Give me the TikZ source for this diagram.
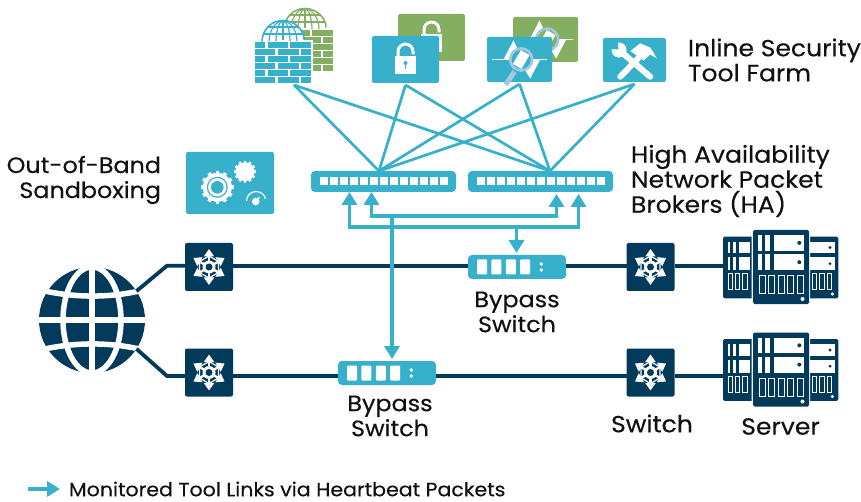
\documentclass[tikz,border=0pt]{standalone}
\usepackage{fontspec}
\setmainfont{Poppins}[FakeStretch=1.07,FakeBold=0.35]
\usepackage{xcolor}
\usetikzlibrary{arrows.meta, positioning}
\definecolor{boxteal}{HTML}{36B0CB}
\definecolor{boxgreen}{HTML}{84AE60}
\definecolor{boxdark}{HTML}{023A5C}
\definecolor{lenslight}{HTML}{A5C8E1}
\definecolor{labelink}{HTML}{111111}

\tikzset{
  netarrows/.pic={
    \foreach \a in {30,90,...,330}
      \draw[white,line width=2.4pt,-{Triangle[width=10pt,length=7.5pt]}] (0,0) -- (\a:20);
    \draw[white,line width=1.2pt] (30:11) -- (90:11) -- (150:11) -- (210:11) -- (270:11) -- (330:11) -- cycle;
    \fill[white] (0,0) circle (6.5);
    \fill[boxdark] (0,0) circle (3.5);
  },
  brokerports/.pic={
    \foreach \i in {0,...,12}
      \fill[white] (-64+10*\i,-4) rectangle ++(8,8);
  },
  bypassports/.pic={
    \foreach \i in {0,...,3}
      \fill[white,rounded corners=1pt] (-40+14.4*\i,-7.5) rectangle ++(10,15);
    \fill[white] (24.3,-3) circle (1.9);
    \fill[white] (24.3,3) circle (1.9);
  },
  padlock/.pic={
    \draw[white,line width=3pt] (-7.5,-3) -- (-7.5,-8) arc (180:360:7.5) -- (7.5,-3);
    \fill[white] (-10.5,-3.5) rectangle (10.5,15);
    \fill[#1] (0,3.5) circle (2);
    \fill[#1] (-0.9,3.5) rectangle (0.9,9.5);
  },
  wavelens/.pic={
    \draw[white,line width=1.5pt] (-27.5,0) -- (29,0);
    \fill[white] (-16,0) -- (-6,-19) -- (3,0) -- cycle;
    \fill[white] (-1,0) -- (10.7,19) -- (20.7,0) -- cycle;
    \draw[lenslight,line width=5pt] (-5,12) -- (-15,27);
    \fill[#1] (1.7,0) circle (11);
    \fill[white,rotate around={-30:(1.7,0)}] (-3.3,-8) rectangle (6.7,8);
    \draw[lenslight,line width=2.7pt] (1.7,0) circle (11);
  },
  brickwall/.pic={
    \fill[white] (-1.5,-1.5) rectangle (57.5,43.5);
    \fill[white] (7,0) arc (180:360:21) -- cycle;
    \begin{scope}
      \clip (7,-0.5) arc (180:360:21) -- cycle;
      \draw[#1,line width=1.2pt] (28,-21) -- (28,0);
      \draw[#1,line width=1.2pt] (28,0) ellipse (7 and 21);
      \draw[#1,line width=1.2pt] (28,0) ellipse (14 and 21);
      \draw[#1,line width=1.2pt] (5,-8) -- (51,-8);
      \draw[#1,line width=1.2pt] (5,-15) -- (51,-15);
    \end{scope}
    \draw[#1,line width=1.6pt] (7,-0.5) arc (180:360:21);
    \foreach \y in {0,14,28} {
      \fill[#1] (0,\y) rectangle ++(10,5.8);
      \fill[#1] (12.5,\y) rectangle ++(20.5,5.8);
      \fill[#1] (35,\y) rectangle ++(21,5.8);
    }
    \foreach \y in {7,21,35} {
      \fill[#1] (0,\y) rectangle ++(20,5.8);
      \fill[#1] (23,\y) rectangle ++(20.5,5.8);
      \fill[#1] (46,\y) rectangle ++(10,5.8);
    }
  },
  crossedtools/.pic={
    \draw[white,line width=6pt,line cap=round] (15.7,16.7) -- (-12,-7);
    \fill[white] (-15.5,-10) circle (7.5);
    \fill[boxteal] (-16,-10.5) -- (-25,-11) -- (-17,-20) -- cycle;
    \draw[white,line width=6pt,line cap=round] (-14.3,16.7) -- (5,-3);
    \fill[white] (-4,-9) -- (5.7,-16.7) -- (15.7,-12.5) -- (22.3,-1.7) -- (15.7,-5.5) -- (9,0.5) -- (0,-6) -- cycle;
  },
  gearset/.pic={
    \foreach \a in {0,30,...,330}
      \draw[white,line width=3.6pt] (-12.7,4.3) ++(\a:12) -- ++(\a:6.5);
    \fill[white] (-12.7,4.3) circle (14.5);
    \fill[boxteal] (-12.7,4.3) circle (10.5);
    \fill[white] (-12.7,4.3) circle (9.2);
    \fill[boxteal] (-12.7,4.3) circle (6.3);
    \foreach \a in {0,30,...,330}
      \draw[white,line width=2.6pt] (15,-11.3) ++(\a:7) -- ++(\a:6);
    \fill[white] (15,-11.3) circle (9.5);
    \draw[white,line width=1.2pt] (16.5,18) arc (180:360:9.5);
    \fill[white] (25.7,18.5) circle (3.8);
    \draw[white,line width=1.2pt] (25.7,18.5) -- (31,12.5);
  },
  serverslot/.style={draw=white,fill=boxdark,line width=1pt},
  serverstack/.pic={
    \fill[boxdark,rounded corners=1.5pt] (-57.5,-30.3) rectangle (-20,31.3);
    \fill[boxdark,rounded corners=1.5pt] (20,-30.3) rectangle (57.8,31.3);
    \foreach \y/\h in {-25.3/11.6,-9.7/12.7} {
      \fill[white] (-53,\y) rectangle ++(22.5,\h);
      \fill[boxdark] (-50.5,\y) rectangle ++(3,\h);
      \fill[boxdark] (-44.5,\y) rectangle ++(3,\h);
      \fill[white] (29.5,\y) rectangle ++(24.5,\h);
      \fill[boxdark] (49.5,\y+\h/2) circle (1.6);
    }
    \foreach \i in {0,1,2} {
      \draw[serverslot] (-52.5+7.3*\i,6.8) rectangle ++(4.6,16);
      \draw[serverslot] (31.5+7.5*\i,6.8) rectangle ++(4.6,16);
    }
    \fill[white] (51.8,27) circle (1.7);
    \fill[white,rounded corners=1.5pt] (-29,-38) rectangle (29.5,38);
    \fill[boxdark,rounded corners=1.5pt] (-27.5,-37) rectangle (28.5,37);
    \foreach \y/\h in {-32/15.7,-12.7/15.7} {
      \fill[white] (-23,\y) rectangle ++(46.7,\h);
      \fill[boxdark] (-19,\y) rectangle ++(3.5,\h);
      \fill[boxdark] (-10.5,\y) rectangle ++(3.5,\h);
      \fill[boxdark] (18.8,\y+\h/2) circle (2);
    }
    \foreach \i in {0,...,4}
      \draw[serverslot] (-21.5+9.6*\i,8.5) rectangle ++(6,18.5);
    \fill[white] (22,32) circle (2);
  },
}

\begin{document}
\begin{tikzpicture}[x=1pt,y=-1pt,shorten >=2pt,node distance=100pt,on grid,auto]
    \tikzstyle{tealbox}=[shape=rectangle,fill=boxteal,rounded corners=2pt,inner sep=0pt,outer sep=0pt]
    \tikzstyle{greenbox}=[shape=rectangle,fill=boxgreen,rounded corners=2pt,inner sep=0pt,outer sep=0pt]
    \tikzstyle{toolbox}=[tealbox,minimum width=65pt,minimum height=45pt]
    \tikzstyle{broker}=[tealbox,rounded corners=4pt,minimum width=145pt,minimum height=21pt]
    \tikzstyle{bypass}=[tealbox,rounded corners=4pt,minimum width=98pt,minimum height=24pt]
    \tikzstyle{netswitch}=[shape=rectangle,fill=boxdark,rounded corners=2pt,inner sep=0pt,outer sep=0pt,minimum size=48pt]
    \tikzstyle{blank}=[shape=rectangle,inner sep=0pt,outer sep=0pt]
    \tikzstyle{caption}=[blank,font=\fontsize{23.4}{25}\selectfont,text=labelink,align=center]
    \tikzstyle{captionfit}=[caption,font=\fontsize{22.3}{25}\selectfont]
    \tikzstyle{farmlink}=[boxteal,line width=2.7pt,shorten >=0pt]
    \tikzstyle{toollink}=[boxteal,line width=3.4pt,{Triangle[width=15pt,length=13pt]}-{Triangle[width=15pt,length=13pt]}]
    \tikzstyle{tooldrop}=[boxteal,line width=3.4pt,-{Triangle[width=15pt,length=13pt]}]
    \tikzstyle{trunk}=[boxdark,line width=3.8pt,shorten >=0pt]

    \useasboundingbox (0,0) rectangle (861,502);

    \node[blank, minimum width=78pt, minimum height=74pt] (FW) at (294,46) {};
    \pic at ([shift={(-17,-16)}]FW) {brickwall=boxgreen};
    \pic at ([shift={(-39,-4)}]FW) {brickwall=boxteal};

    \node[greenbox, minimum width=67pt, minimum height=47pt] (LockG) at (431.5,37.5) {};
    \pic at (LockG) {padlock=boxgreen};
    \node[tealbox, minimum width=67pt, minimum height=47pt] (LockT) at (405.5,59.5) {};
    \pic at (LockT) {padlock=boxteal};

    \node[greenbox, minimum width=65pt, minimum height=45pt] (WaveG) at (545.5,39.5) {};
    \pic at (WaveG) {wavelens=boxgreen};
    \node[toolbox] (WaveT) at (519.5,59.5) {};
    \pic at (WaveT) {wavelens=boxteal};

    \node[toolbox, minimum width=63pt, minimum height=44pt] (Tools) at (634.5,60) {};
    \pic at (Tools) {crossedtools};

    \node[tealbox, minimum width=88pt, minimum height=62pt] (Sandbox) at (230,183) {};
    \pic at (Sandbox) {gearset};

    \node[broker] (BrkA) at (383.5,181.5) {};
    \node[broker, right=157pt of BrkA] (BrkB) {};
    \pic at (BrkA) {brokerports};
    \pic at (BrkB) {brokerports};

    \node[bypass] (ByA) at (517,267) {};
    \node[bypass] (ByB) at (387,373) {};
    \pic at (ByA) {bypassports};
    \pic at (ByB) {bypassports};

    \node[netswitch] (SwA) at (209,267) {};
    \node[netswitch, below=105.5pt of SwA] (SwB) {};
    \node[netswitch, right=441.5pt of SwA] (SwC) {};
    \node[netswitch, right=441.5pt of SwB] (SwD) {};
    \foreach \n in {SwA,SwB,SwC,SwD} \pic at (\n) {netarrows};

    \node[blank, minimum width=115pt, minimum height=74pt] (SrvA) at (780.5,267) {};
    \node[blank, minimum width=115pt, minimum height=74pt, below=102.5pt of SrvA] (SrvB) {};
    \pic at (SrvA) {serverstack};
    \pic at (SrvB) {serverstack};

    \node[shape=circle, fill=boxdark, inner sep=0pt, outer sep=0pt, minimum size=106pt] (Globe) at (92,320) {};
    \begin{scope}
      \clip (Globe) circle (53.5);
      \draw[white,line width=5.5pt] (92,262) -- (92,378);
      \draw[white,line width=5.5pt] (92,320) ellipse (29 and 53);
      \draw[white,line width=6.5pt] (35,320) -- (149,320);
      \draw[white,line width=5.5pt] (40,290) .. controls (75,298) and (109,298) .. (144,290);
      \draw[white,line width=5.5pt] (40,350) .. controls (75,342) and (109,342) .. (144,350);
    \end{scope}

    \coordinate (KneeA) at (167,265.7);
    \coordinate (KneeB) at (167,376);
    \draw[trunk] (Globe.33) -- (KneeA) -- (SwA.west |- KneeA);
    \draw[trunk] (Globe.-33) -- (KneeB) -- (SwB.west |- KneeB);
    \draw[trunk] (SwA.east |- KneeA) -- (ByA.west |- KneeA);
    \draw[trunk] (ByA.east |- KneeA) -- (SwC.west |- KneeA);
    \draw[trunk] (SwC.east |- KneeA) -- (SrvA.west |- KneeA);
    \draw[trunk] (SwB.east |- KneeB) -- (ByB.west |- KneeB);
    \draw[trunk] (ByB.east |- KneeB) -- (SwD.west |- KneeB);
    \draw[trunk] (SwD.east |- KneeB) -- (SrvB.west |- KneeB);

    \coordinate (FanA) at ([xshift=-4.5pt]BrkA.north);
    \coordinate (FanB) at ([xshift=9.5pt]BrkB.north);
    \foreach \n in {FW,LockT,WaveT,Tools} {
      \path[draw, farmlink] ([yshift=-2pt]\n.south) -- (FanA);
      \path[draw, farmlink] ([yshift=-2pt]\n.south) -- (FanB);
    }

    \coordinate (PortA) at ([xshift=-34pt]BrkA.south);
    \coordinate (PortB) at ([xshift=-12pt]BrkA.south);
    \coordinate (PortC) at ([xshift=16pt]BrkB.south);
    \coordinate (PortD) at ([xshift=38pt]BrkB.south);
    \coordinate (RailU) at (392,216);
    \coordinate (RailL) at (516.5,227);
    \draw[toollink] (PortA) -- (PortA |- RailL) -- (PortD |- RailL) -- (PortD);
    \draw[toollink] (PortB) -- (PortB |- RailU) -- (PortC |- RailU) -- (PortC);
    \draw[tooldrop] (RailU) -- (RailU |- ByB.north);
    \draw[tooldrop] (RailL) -- (RailL |- ByA.north);

    \node[caption, align=left, anchor=west] (FarmTxt) at (688,60) {Inline Security\\Tool Farm};
    \node[caption, align=left, anchor=west] (HaTxt) at (631,181) {High Availability\\Network Packet\\Brokers (HA)};
    \node[captionfit, align=right, anchor=east] (SandTxt) at (161,180) {Out-of-Band\\Sandboxing};
    \node[captionfit, below=45pt of ByA] (ByATxt) {Bypass\\Switch};
    \node[captionfit, below=43pt of ByB, xshift=3pt] (ByBTxt) {Bypass\\Switch};
    \node[caption, below=51pt of SwD, xshift=1.5pt] (SwTxt) {Switch};
    \node[caption, below=57pt of SrvB] (SrvTxt) {Server};

    \node[blank, anchor=west, font=\fontsize{19.2}{21}\selectfont, text=labelink] (LegTxt) at (69,489) {Monitored Tool Links via Heartbeat Packets};
    \coordinate (LegTail) at (28,489);
    \draw[tooldrop, shorten >=9pt] (LegTail) -- (LegTxt.west);

  \end{tikzpicture}
\end{document}
